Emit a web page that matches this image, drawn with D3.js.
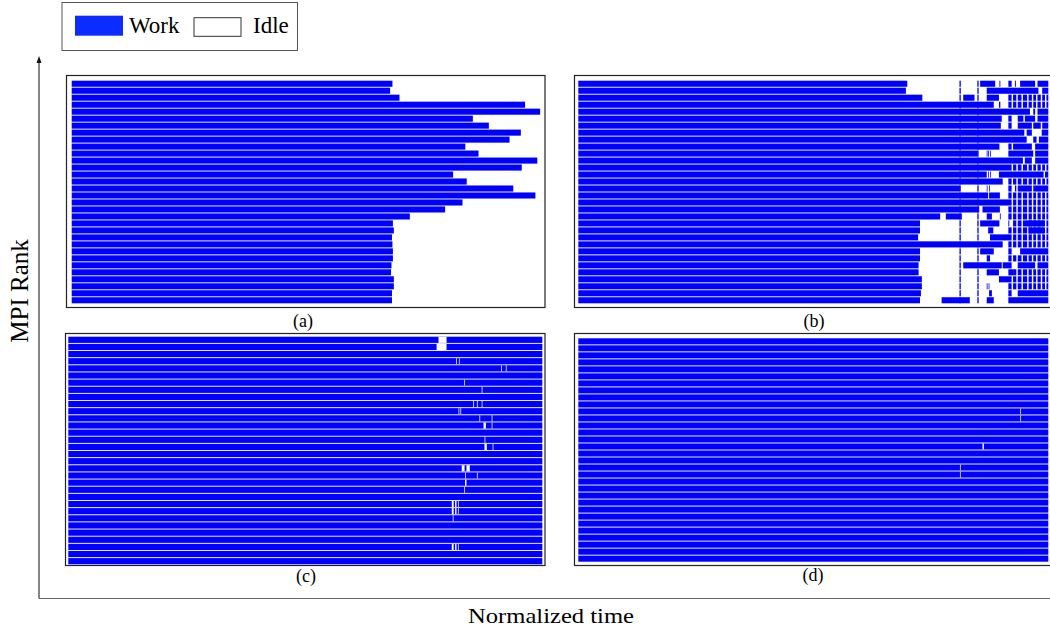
<!DOCTYPE html>
<html>
<head>
<meta charset="utf-8">
<script src="https://cdn.jsdelivr.net/npm/d3@7"></script>
<style>
  body { margin: 0; background: #fff; }
  svg { display: block; }
  text { font-family: "Liberation Serif", "Times New Roman", Times, "DejaVu Serif", serif; fill: #000; }
</style>
</head>
<body>
<svg id="chart" width="1050" height="631"></svg>
<script>
// ---- data (time in % of normalized run time, ranks 0..31 top to bottom) ----
const ranks = d3.range(32);

// (a) each rank works from 0 until its end time, then idles
const endsA = [68.2, 67.7, 69.7, 96.4, 99.6, 85.3, 88.7, 95.5, 93.1, 83.7, 86.5, 99.0,
               95.7, 81.1, 84.0, 93.9, 98.6, 83.1, 79.4, 71.9, 68.3, 68.5, 68.1, 68.2,
               68.3, 68.3, 68.0, 67.9, 68.5, 68.5, 68.1, 68.1];

// (b) work segments per rank
const segsB = [
  [[0, 70.0], [85.5, 88.7], [89.6, 89.8], [91.5, 92.2], [92.9, 93.1], [94.0, 97.2], [97.7, 100]],
  [[0, 69.7], [86.9, 97.9], [98.7, 100]],
  [[0, 73.2], [81.9, 84.3], [86.9, 89.5], [91.5, 92.2]],
  [[0, 88.4], [89.5, 89.8], [91.5, 92.2]],
  [[0, 96.1], [96.8, 97.2], [97.7, 100]],
  [[0, 90.1], [91.5, 92.2], [93.5, 94.7], [95.0, 97.2], [97.7, 100]],
  [[0, 89.9], [91.5, 92.2], [93.5, 96.5], [96.8, 98.4], [98.7, 100]],
  [[0, 94.9], [95.4, 96.5], [98.6, 100]],
  [[0, 95.4], [96.8, 97.5], [98.0, 100]],
  [[0, 89.6], [91.5, 92.2], [92.5, 96.5], [97.2, 100]],
  [[0, 85.0], [86.9, 87.0], [87.2, 87.3], [87.6, 87.7], [91.5, 96.8], [97.2, 100]],
  [[0, 94.6], [95.0, 96.5], [97.2, 100]],
  [[0, 92.2]],
  [[0, 86.9], [87.2, 87.3], [87.6, 87.7], [89.5, 99.0], [99.3, 100]],
  [[0, 90.3], [91.5, 92.2]],
  [[0, 81.2], [86.9, 87.0], [87.4, 87.5], [91.5, 92.2], [92.9, 93.2], [93.5, 96.5], [96.8, 100]],
  [[0, 87.2], [87.4, 89.7], [91.5, 92.2]],
  [[0, 92.2]],
  [[0, 85.3], [86.0, 89.7], [91.5, 92.2]],
  [[0, 77.0], [78.2, 81.6], [86.9, 88.0], [89.7, 89.8], [91.5, 92.2]],
  [[0, 72.7], [85.5, 89.6], [91.5, 91.7], [95.4, 99.0]],
  [[0, 72.7], [87.2, 88.3], [91.5, 92.2], [95.8, 99.0]],
  [[0, 72.3], [87.6, 92.2]],
  [[0, 90.3], [91.5, 92.2]],
  [[0, 72.7], [85.5, 88.4], [91.5, 92.2], [94.0, 100]],
  [[0, 72.7], [86.9, 87.6], [91.5, 92.2]],
  [[0, 72.4], [81.9, 90.1], [90.3, 92.2], [93.5, 97.2], [97.7, 100]],
  [[0, 72.4], [86.9, 89.5], [91.5, 92.5]],
  [[0, 73.1], [89.5, 92.2]],
  [[0, 73.1], [86.9, 87.0], [87.3, 87.4], [91.5, 92.2]],
  [[0, 72.9], [87.4, 88.0], [91.5, 92.2], [93.5, 100]],
  [[0, 72.7], [77.3, 83.3], [86.9, 88.4], [91.5, 100]]
];
// (b) ranks ending with the fragmented tail of short work pieces
const tailRowsB = [2, 3, 12, 14, 16, 17, 18, 19, 20, 21, 22, 23, 25, 27, 28, 29];
const tailB = [[92.5, 93.2], [93.5, 94.3], [94.6, 95.5], [95.8, 96.5], [96.8, 97.4],
               [97.7, 98.4], [98.7, 99.3], [99.6, 100]];
// (b) short work bursts shared by every rank (collective calls)
const syncB = [81.1, 84.9];

// (c) idle gaps [rank, start, end]; clear ones and faint thin ones
const idleC = [[0, 78.1, 79.8], [1, 77.7, 79.8], [12, 87.6, 88.1], [15, 87.8, 88.3],
               [18, 83.0, 83.6], [18, 84.0, 84.7], [20, 83.7, 84.0],
               [23, 80.9, 81.3], [23, 81.6, 81.9], [24, 80.9, 81.3], [24, 81.6, 81.9],
               [29, 80.9, 81.3], [29, 81.6, 81.9]];
const faintC = [[3, 81.8, 82.0], [3, 82.4, 82.6], [4, 91.3, 91.5], [4, 92.3, 92.5],
                [6, 83.5, 83.7], [7, 87.2, 87.4], [9, 85.4, 85.6], [9, 86.2, 86.4],
                [9, 87.2, 87.4], [10, 82.3, 82.5], [10, 82.7, 82.9], [11, 86.7, 86.9],
                [11, 89.3, 89.5], [12, 89.3, 89.5], [14, 87.8, 88.0], [15, 89.5, 89.7],
                [19, 83.7, 83.9], [19, 86.2, 86.4], [21, 83.5, 83.7], [23, 82.2, 82.4],
                [24, 82.2, 82.4], [25, 81.1, 81.3], [29, 82.2, 82.4]];

// (d) idle gaps
const idleD = [[15, 86.0, 86.3]];
const faintD = [[10, 94.0, 94.2], [11, 94.0, 94.2], [18, 81.2, 81.4], [19, 81.2, 81.4]];

const legendItems = ["Work", "Idle"];
const panelNames = ["(a)", "(b)", "(c)", "(d)"];

const WORK = "#0000ff";

const svg = d3.select("#chart");

// ---- panels ----
const panels = [
  { name: panelNames[0], box: [66.5, 75.5, 545, 307.5], x: [71.7, 542], y: [80.7, 303.3], lab: [303, 327],
    rows: ranks.map(r => [[0, endsA[r]]]) },
  { name: panelNames[1], box: [574.5, 75.5, 1056, 307.5], x: [578.3, 1048.3], y: [80.7, 303.3], lab: [814, 327],
    rows: ranks.map(r => segsB[r]
      .concat(tailRowsB.includes(r) ? tailB : [])
      .concat(syncB.map(t => [t, t + 0.28]))) },
  { name: panelNames[2], box: [65.5, 333.5, 545, 565.5], x: [68.3, 542.3], y: [336.7, 564.3], lab: [306, 582],
    rows: ranks.map(() => [[0, 100]]), idle: idleC, faint: faintC },
  { name: panelNames[3], box: [574.5, 333.5, 1056, 565.5], x: [578.3, 1048.3], y: [338.3, 561.7], lab: [813, 581],
    rows: ranks.map(() => [[0, 100]]), idle: idleD, faint: faintD }
];

panels.forEach(p => {
  const g = svg.append("g");
  const x = d3.scaleLinear().domain([0, 100]).range(p.x);
  const y = d3.scaleBand().domain(ranks).range(p.y).paddingInner(0.13);

  g.append("rect")
    .attr("x", p.box[0]).attr("y", p.box[1])
    .attr("width", p.box[2] - p.box[0]).attr("height", p.box[3] - p.box[1])
    .attr("fill", "#fff")
    .attr("stroke", "#222")
    .attr("stroke-width", 1.2);

  const segs = p.rows.flatMap((list, r) => list.map(s => ({ r: r, s: s[0], e: s[1] })));
  g.selectAll(".work")
    .data(segs)
    .join("rect")
    .attr("class", "work")
    .attr("x", d => x(d.s))
    .attr("y", d => y(d.r))
    .attr("width", d => Math.max(0.8, x(d.e) - x(d.s)))
    .attr("height", y.bandwidth())
    .attr("fill", WORK);

  if (p.idle) {
    g.selectAll(".idle")
      .data(p.idle)
      .join("rect")
      .attr("class", "idle")
      .attr("x", d => x(d[1]))
      .attr("y", d => y(d[0]))
      .attr("width", d => Math.max(0.8, x(d[2]) - x(d[1])))
      .attr("height", y.bandwidth())
      .attr("fill", "#fff");
    g.selectAll(".faint")
      .data(p.faint)
      .join("rect")
      .attr("class", "faint")
      .attr("x", d => x(d[1]))
      .attr("y", d => y(d[0]))
      .attr("width", d => Math.max(0.7, x(d[2]) - x(d[1])))
      .attr("height", y.bandwidth())
      .attr("fill", "#c8c8ff");
  }

  g.append("text")
    .attr("x", p.lab[0]).attr("y", p.lab[1])
    .attr("text-anchor", "middle")
    .style("font-size", "18px")
    .text(p.name);
});

// ---- axes ----
svg.append("line")
  .attr("x1", 39).attr("y1", 598.5).attr("x2", 1050).attr("y2", 598.5)
  .attr("stroke", "#666").attr("stroke-width", 1.2);
svg.append("line")
  .attr("x1", 39).attr("y1", 598.5).attr("x2", 39).attr("y2", 62)
  .attr("stroke", "#333").attr("stroke-width", 1.2);
svg.append("path")
  .attr("d", "M39,56 L36.5,63 L41.5,63 Z")
  .attr("fill", "#111");

svg.append("text")
  .attr("transform", "translate(28,291) rotate(-90)")
  .attr("text-anchor", "middle")
  .style("font-size", "25px")
  .text("MPI Rank");

svg.append("text")
  .attr("x", 468).attr("y", 623)
  .attr("textLength", 166)
  .attr("lengthAdjust", "spacingAndGlyphs")
  .style("font-size", "22px")
  .text("Normalized time");

// ---- legend ----
const leg = svg.append("g");
leg.append("rect")
  .attr("x", 62).attr("y", 2.5).attr("width", 235.5).attr("height", 48)
  .attr("fill", "#fff").attr("stroke", "#555").attr("stroke-width", 1);
leg.append("rect")
  .attr("x", 75).attr("y", 15.7).attr("width", 48).attr("height", 20)
  .attr("fill", "#0a2cff");
leg.append("text")
  .attr("x", 129).attr("y", 32.5)
  .style("font-size", "23px")
  .text(legendItems[0]);
leg.append("rect")
  .attr("x", 194).attr("y", 17.7).attr("width", 47).attr("height", 18.6)
  .attr("fill", "#fff").attr("stroke", "#333").attr("stroke-width", 1);
leg.append("text")
  .attr("x", 253).attr("y", 32.5)
  .style("font-size", "23px")
  .text(legendItems[1]);
</script>
</body>
</html>
